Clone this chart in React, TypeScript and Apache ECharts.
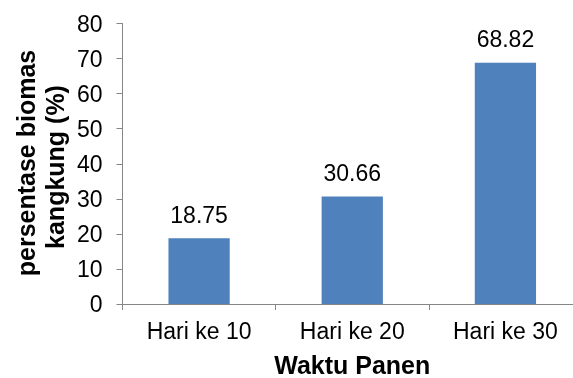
import React, { useEffect, useRef } from "react";
import * as echarts from "echarts";

const categories = ["Hari ke 10", "Hari ke 20", "Hari ke 30"];
const values = [18.75, 30.66, 68.82];
const yTicks = { min: 0, max: 80, interval: 10 };
const yTitleLines = ["persentase biomas", "kangkung (%)"];
const xTitle = "Waktu Panen";

export default function App() {
  const ref = useRef<HTMLDivElement>(null);
  useEffect(() => {
    const chart = echarts.init(ref.current!, null, { renderer: "svg" });
    const font = "Liberation Sans, Arial, sans-serif";
    chart.setOption({
      animation: false,
      textStyle: { fontFamily: font },
      grid: {
        left: 122.5,
        right: -9,
        top: 23.5,
        bottom: 74,
        containLabel: false,
        outerBoundsMode: "none",
      },
      xAxis: {
        type: "category",
        data: categories,
        axisLine: { lineStyle: { color: "#868686", width: 1 } },
        axisTick: { show: true, length: 6, alignWithLabel: false, lineStyle: { color: "#868686" } },
        axisLabel: { color: "#000", fontSize: 23, margin: 15, fontFamily: font },
        name: xTitle,
        nameLocation: "middle",
        nameGap: 48,
        nameTextStyle: {
          color: "#000",
          fontSize: 25,
          lineHeight: 25,
          fontWeight: "bold",
          fontFamily: font,
          verticalAlign: "top",
        },
      },
      yAxis: {
        type: "value",
        min: yTicks.min,
        max: yTicks.max,
        interval: yTicks.interval,
        axisLine: { show: true, lineStyle: { color: "#868686", width: 1 } },
        axisTick: { show: true, length: 6, lineStyle: { color: "#868686" } },
        splitLine: { show: false },
        axisLabel: { color: "#000", fontSize: 23, margin: 20, fontFamily: font },
      },
      graphic: [
        {
          type: "text",
          x: 26,
          y: 163,
          rotation: Math.PI / 2,
          style: {
            text: yTitleLines[0],
            fill: "#000",
            font: `bold 25px ${font}`,
            textAlign: "center",
            textVerticalAlign: "middle",
          },
        },
        {
          type: "text",
          x: 55,
          y: 167,
          rotation: Math.PI / 2,
          style: {
            text: yTitleLines[1],
            fill: "#000",
            font: `bold 25px ${font}`,
            textAlign: "center",
            textVerticalAlign: "middle",
          },
        },
      ],
      series: [
        {
          type: "bar",
          data: values,
          barWidth: "40%",
          itemStyle: { color: "#4F81BD" },
          label: {
            show: true,
            position: "top",
            distance: 12,
            color: "#000",
            fontSize: 23,
            fontFamily: font,
            formatter: (p: any) => p.value.toFixed(2),
          },
        },
      ],
    });
    return () => chart.dispose();
  }, []);
  return <div ref={ref} style={{ position: "fixed", left: 0, top: 0, width: 573, height: 378 }} />;
}
